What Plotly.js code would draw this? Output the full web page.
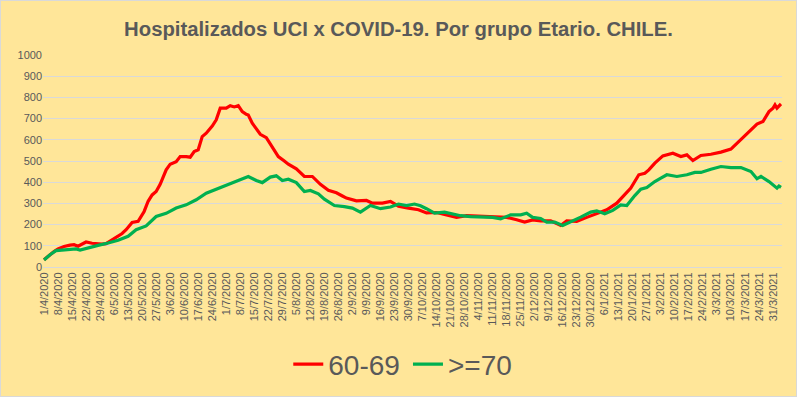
<!DOCTYPE html>
<html><head><meta charset="utf-8">
<script src="https://cdn.plot.ly/plotly-3.0.1.min.js"></script>
<style>html,body{margin:0;padding:0;background:#FFE699;}#chart{width:797px;height:397px;box-sizing:border-box;border:1px solid #D9D9D9;}</style>
</head><body><div id="chart"></div>
<script>
// Day index since 1/4/2020 and values
const redDays = [0,3,5,7,10,13,15,17,19,21,24,26,29,31,34,37,39,41,44,47,50,52,54,56,58,61,63,66,68,71,73,75,77,79,81,84,86,88,91,93,95,97,99,101,102,104,106,108,111,114,117,120,122,126,130,134,138,142,146,149,151,156,161,164,169,173,177,182,187,191,196,201,206,211,218,224,231,236,240,244,248,253,258,261,266,271,276,281,286,290,293,297,300,302,305,309,314,318,321,324,328,333,338,343,348,353,356,359,362,364,365,366,368];
const redVals = [34,58,73,85,97,103,105,98,110,118,112,109,108,110,129,144,158,176,210,215,262,310,340,356,390,458,485,497,521,521,518,545,553,615,631,665,694,749,749,761,755,761,733,720,717,678,650,626,610,565,521,500,485,463,427,427,390,362,350,335,325,312,314,301,301,309,287,278,270,255,257,246,234,242,238,238,234,223,212,222,218,218,196,218,215,234,254,270,301,341,372,435,442,458,490,524,537,521,529,502,526,532,542,556,600,647,674,686,733,749,765,749,769];
const greenDays = [0,3,6,11,16,18,22,27,32,37,42,46,51,56,61,66,71,76,81,86,91,96,102,106,109,113,116,119,122,126,130,133,137,140,145,150,154,158,163,168,173,177,181,185,188,191,195,200,204,208,213,218,224,228,233,238,241,244,248,251,255,259,263,268,273,276,280,284,288,291,295,298,301,305,308,311,316,321,325,328,333,338,343,348,353,356,358,362,366,367,368];
const greenVals = [33,58,77,80,85,80,91,102,113,126,145,176,194,238,253,278,293,317,348,367,388,403,427,408,398,424,430,408,414,398,356,361,345,320,290,285,278,259,290,275,283,297,290,297,289,275,254,259,251,242,238,236,234,227,246,246,254,234,229,212,212,196,212,235,259,265,251,267,293,290,337,367,375,403,419,435,427,435,446,446,461,474,469,469,450,416,427,403,372,382,376];
const tickLabels = ["1/4/2020","8/4/2020","15/4/2020","22/4/2020","29/4/2020","6/5/2020","13/5/2020","20/5/2020","27/5/2020","3/6/2020","10/6/2020","17/6/2020","24/6/2020","1/7/2020","8/7/2020","15/7/2020","22/7/2020","29/7/2020","5/8/2020","12/8/2020","19/8/2020","26/8/2020","2/9/2020","9/9/2020","16/9/2020","23/9/2020","30/9/2020","7/10/2020","14/10/2020","21/10/2020","28/10/2020","4/11/2020","11/11/2020","18/11/2020","25/11/2020","2/12/2020","9/12/2020","16/12/2020","23/12/2020","30/12/2020","6/1/2021","13/1/2021","20/1/2021","27/1/2021","3/2/2021","10/2/2021","17/2/2021","24/2/2021","3/3/2021","10/3/2021","17/3/2021","24/3/2021","31/3/2021"];
const tickDays = tickLabels.map((_, i) => i * 7);
const seriesNames = ["60-69", ">=70"];

const font = "Liberation Sans Narrow, Arial Narrow, sans-serif";
const data = [
  {x: redDays, y: redVals, name: seriesNames[0], type: "scatter", mode: "lines",
   line: {color: "#FF0000", width: 3.2}, legend: "legend"},
  {x: greenDays, y: greenVals, name: seriesNames[1], type: "scatter", mode: "lines",
   line: {color: "#00B050", width: 3.2}, legend: "legend2"}
];
const legendFont = {family: "Liberation Sans, Arial, sans-serif", size: 28, color: "#595959"};
const layout = {
  width: 795, height: 395,
  paper_bgcolor: "#FFE699", plot_bgcolor: "#FFE699",
  margin: {l: 42, r: 14, t: 54, b: 129},
  title: {text: "<b>Hospitalizados UCI x COVID-19. Por grupo Etario. CHILE.</b>",
    font: {family: font, size: 20.3, color: "#595959"}, x: 0.5, xanchor: "center", y: 0.93, yanchor: "middle"},
  xaxis: {range: [-0.5, 368.5], tickvals: tickDays, ticktext: tickLabels, tickangle: -90,
    showgrid: false, zeroline: false, showline: true, linecolor: "#D9D9D9", linewidth: 1,
    ticks: "", tickfont: {family: font, size: 11, color: "#595959"}, fixedrange: true, automargin: false},
  yaxis: {range: [0, 1000], dtick: 100, showgrid: true, gridcolor: "#D9D9D9", gridwidth: 1,
    zeroline: false, showline: false, ticks: "", ticklen: 0,
    tickfont: {family: font, size: 11, color: "#595959"}, fixedrange: true, automargin: false},
  showlegend: true,
  legend: {orientation: "h", x: 288/797, xanchor: "left", xref: "container",
    y: 0.08, yanchor: "middle", yref: "container",
    font: legendFont, bgcolor: "rgba(0,0,0,0)", itemwidth: 30},
  legend2: {orientation: "h", x: 408/797, xanchor: "left", xref: "container",
    y: 0.08, yanchor: "middle", yref: "container",
    font: legendFont, bgcolor: "rgba(0,0,0,0)", itemwidth: 30}
};
Plotly.newPlot("chart", data, layout, {displayModeBar: false, staticPlot: true});
</script></body></html>
